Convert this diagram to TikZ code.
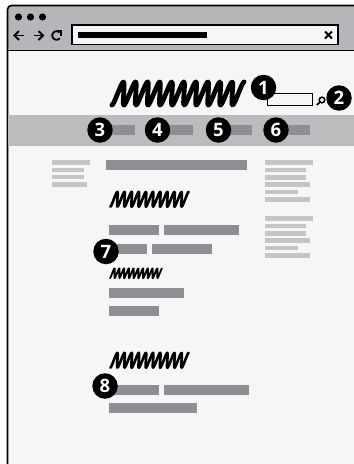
\documentclass[tikz,border=0pt]{standalone}
\usepackage{fontspec}
\setmainfont{Open Sans}
\definecolor{pagebg}{HTML}{F6F6F6}
\definecolor{chrome}{HTML}{B5B6B9}
\definecolor{navbar}{HTML}{BBBCBE}
\definecolor{barmid}{HTML}{8E8F94}
\definecolor{barlite}{HTML}{C4C5C7}
\tikzset{
  x=1pt,y=-1pt,
  badge/.style={circle,fill=black,draw=none,minimum size=25.5pt,inner sep=0pt,text=white,font=\fontsize{18.5}{18.5}\selectfont\bfseries},
  icon/.style={line width=1.8pt,draw=black,line cap=butt},
}
% \coil{x0}{ybottom}{xend}{ytop}{turns}{linewidth}
\newcommand{\coil}[6]{%
  \pgfmathsetmacro{\cW}{#3-#1}\pgfmathsetmacro{\cH}{#2-#4}%
  \pgfmathsetmacro{\cLw}{#6}\pgfmathsetmacro{\cSk}{\cH*0.2}%
  \pgfmathsetmacro{\cSt}{(\cW-\cSk-\cLw)/(#5-0.5)}%
  \pgfmathsetmacro{\cEnd}{#5-0.5}%
  \draw[line width=#6pt,line cap=round,line join=round]
    plot[smooth,domain=0:\cEnd,samples=#5*16+1,variable=\t]
    ({#1+\cLw/2+\cSt*\t+\cSk*0.5*(1-cos(360*\t))},
     {#2-\cLw/2-(\cH-\cLw)*0.5*(1-cos(360*\t))});
}
\newcommand{\blk}[5]{\fill[#1] (#2,#3) rectangle (#4,#5);}
\begin{document}
\begin{tikzpicture}
\useasboundingbox (0,0) rectangle (354,464);
\fill[white] (0,0) rectangle (354,464);
% window
\path[fill=pagebg,rounded corners=4pt] (7,470) -- (7,5) -- (360,5) -- (360,470) -- cycle;
\path[fill=chrome,rounded corners=4pt] (7,50) {[sharp corners] -- (7,40)} -- (7,5) -- (360,5) -- (360,50) -- cycle;
\draw[line width=1.6pt,rounded corners=4pt] (7.5,470) -- (7.5,5.5) -- (360,5.5);
\draw[line width=1.6pt] (7.5,50.5) -- (354,50.5);
% traffic dots
\foreach \dx in {18.5,30.5,42.5} \fill (\dx,17) circle (3.6);
% toolbar icons
\draw[icon] (24,35.5) -- (15,35.5); \draw[icon] (19,31) -- (14.5,35.5) -- (19,40);
\draw[icon] (33.5,35.5) -- (43,35.5); \draw[icon] (38.5,31) -- (43,35.5) -- (38.5,40);
\draw[icon] plot[domain=-45:-320,samples=30,variable=\a] ({56.5+4.2*cos(\a)},{35.5+4.2*sin(\a)});
\draw[icon] (57,31.2) -- (61.3,31.2) -- (61.3,35.5);
% address bar
\draw[line width=1.6pt,fill=pagebg] (72,25) rectangle (338,44.5);
\fill (78,32) rectangle (207,38);
\draw[line width=1.9pt] (325,31.5) -- (332,38.5) (332,31.5) -- (325,38.5);
% logo
\coil{109.5}{107.5}{246.5}{79.5}{11}{4.7}
% search
\draw[line width=1pt,fill=pagebg] (267,93.5) rectangle (312,105.5);
\draw[line width=1.5pt] (322,100) circle (2.8);
\draw[line width=1.7pt] (320,102.2) -- (316.7,105);
% nav bar
\fill[navbar] (8.3,115) rectangle (354,145.5);
\blk{barmid}{100}{125}{135}{135}
\blk{barmid}{157}{125}{193}{135}
\blk{barmid}{218}{125}{252}{135}
\blk{barmid}{276}{125}{310}{135}
% left column
\blk{barlite}{52}{160}{90}{165}
\blk{barlite}{52}{167.5}{84}{172}
\blk{barlite}{52}{174.5}{84}{179}
\blk{barlite}{52}{182}{87}{186.5}
% right column
\foreach \oy in {0,56}{
  \blk{barlite}{265}{160+\oy}{313}{165+\oy}
  \blk{barlite}{265}{167.5+\oy}{306}{172+\oy}
  \blk{barlite}{265}{174.5+\oy}{306}{179.5+\oy}
  \blk{barlite}{265}{182+\oy}{309.5}{187+\oy}
  \blk{barlite}{265}{189.5+\oy}{298}{194+\oy}
  \blk{barlite}{265}{197+\oy}{309.5}{201.5+\oy}
}
% main column
\blk{barmid}{106}{160}{247}{170}
\coil{109}{208}{190}{190.5}{11}{2.6}
\blk{barmid}{109}{225}{159}{235}
\blk{barmid}{164}{225}{239}{235}
\blk{barmid}{109}{244}{147}{254}
\blk{barmid}{152}{244}{212}{254}
\coil{109}{279}{163}{267.5}{11}{1.8}
\blk{barmid}{109}{288}{184}{298}
\blk{barmid}{109}{306}{159}{316}
\coil{109}{369}{190}{351.5}{11}{2.6}
\blk{barmid}{109}{385}{159}{395}
\blk{barmid}{164}{385}{249}{395}
\blk{barmid}{109}{403}{197}{413}
% badges
\node[badge] (b1) at (263.5,87.5) {1};
\node[badge] (b2) at (339,98) {2};
\node[badge] (b3) at (100,130) {3};
\node[badge] (b4) at (157.5,130) {4};
\node[badge] (b5) at (218.5,130) {5};
\node[badge] (b6) at (276,130) {6};
\node[badge] (b7) at (106,251.5) {7};
\node[badge] (b8) at (105,386) {8};
\end{tikzpicture}
\end{document}
